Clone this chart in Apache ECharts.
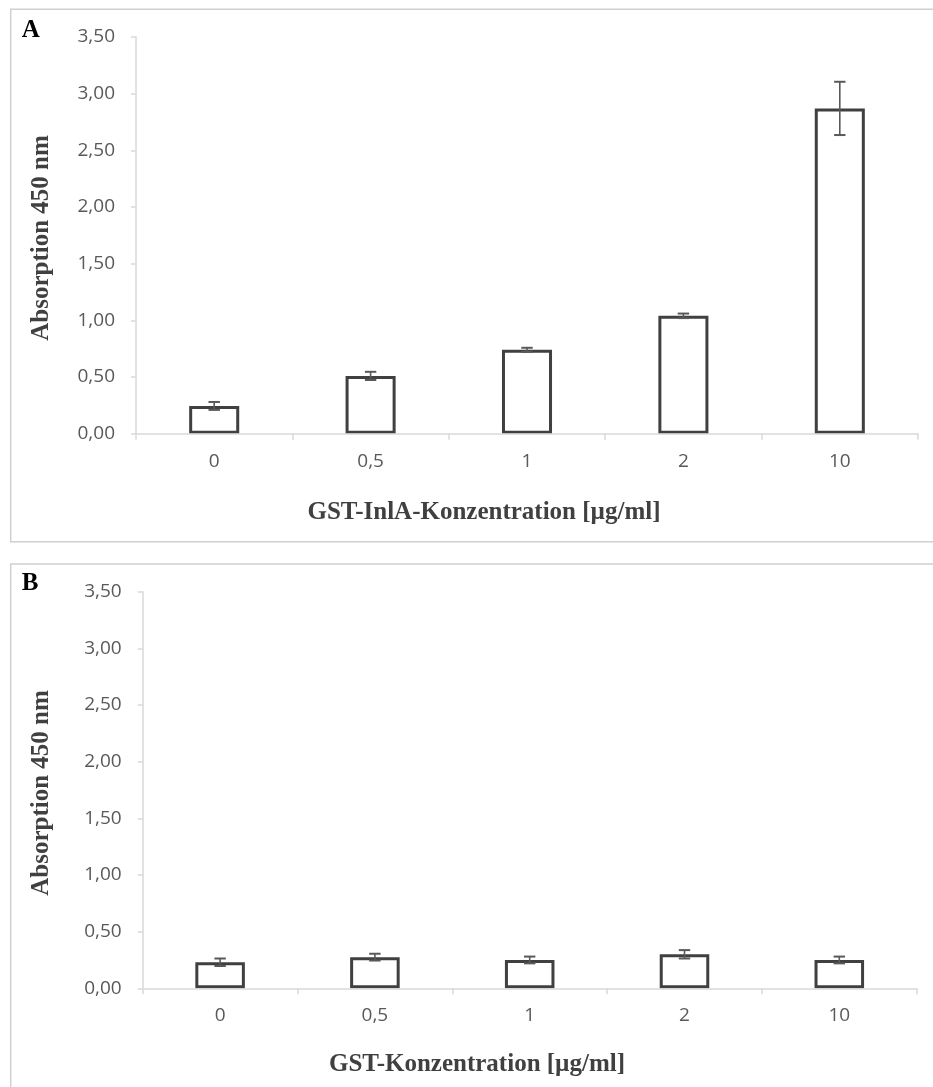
<!DOCTYPE html>
<html>
<head>
<meta charset="utf-8">
<script src="https://cdn.jsdelivr.net/npm/echarts@6/dist/echarts.min.js"></script>
<style>
  html, body { margin: 0; padding: 0; background: #ffffff; }
  #chart { width: 933px; height: 1087px; }
</style>
</head>
<body>
<div id="chart"></div>
<script>
// Concentrations (x categories), shared by both panels
const concentrations = ['0', '0,5', '1', '2', '10'];

// Panel A: GST-InlA, absorbance at 450 nm (mean and error)
const meanA = [0.245, 0.51, 0.74, 1.04, 2.87];
const errA  = [0.035, 0.036, 0.018, 0.02, 0.235];

// Panel B: GST, absorbance at 450 nm (mean and error)
const meanB = [0.23, 0.275, 0.25, 0.30, 0.25];
const errB  = [0.033, 0.03, 0.03, 0.037, 0.03];

// Y axis range
const yMin = 0, yMax = 3.5, yStep = 0.5;

const titleFont = 'bold 25px "Liberation Serif", "DejaVu Serif", serif';
const textDark = '#404040';
const labelGray = '#595959';
const axisGray = '#d9d9d9';

// Error bar: vertical whisker with caps at mean ± err
function errorRender(params, api) {
  const x = api.value(0);
  const m = api.value(1);
  const e = api.value(2);
  const top = api.coord([x, m + e]);
  const bot = api.coord([x, m - e]);
  const hw = 5.7;
  const style = { stroke: labelGray, lineWidth: 1.6 };
  return {
    type: 'group',
    children: [
      { type: 'line', shape: { x1: top[0], y1: top[1], x2: bot[0], y2: bot[1] }, style },
      { type: 'line', shape: { x1: top[0] - hw, y1: top[1], x2: top[0] + hw, y2: top[1] }, style: { stroke: labelGray, lineWidth: 2 } },
      { type: 'line', shape: { x1: bot[0] - hw, y1: bot[1], x2: bot[0] + hw, y2: bot[1] }, style: { stroke: labelGray, lineWidth: 2 } }
    ]
  };
}

function xAxisCfg(gridIndex) {
  return {
    type: 'category',
    gridIndex,
    data: concentrations,
    z: 5,
    axisLine: { show: true, lineStyle: { color: axisGray, width: 1.5 } },
    axisTick: { show: true, length: 6, lineStyle: { color: axisGray, width: 1.5 } },
    axisLabel: { color: labelGray, fontSize: 19, fontFamily: '"Open Sans", sans-serif', margin: 18 },
    splitLine: { show: false }
  };
}

function yAxisCfg(gridIndex) {
  return {
    type: 'value',
    gridIndex,
    min: yMin, max: yMax, interval: yStep,
    axisLine: { show: true, lineStyle: { color: axisGray, width: 1.5 } },
    axisTick: { show: true, length: 5, lineStyle: { color: axisGray, width: 1.5 } },
    axisLabel: {
      color: labelGray, fontSize: 19, fontFamily: '"Open Sans", sans-serif', margin: 21,
      formatter: v => v.toFixed(2).replace('.', ',')
    },
    splitLine: { show: false }
  };
}

function barSeries(idx, values) {
  return {
    type: 'bar',
    xAxisIndex: idx, yAxisIndex: idx,
    data: values,
    barWidth: '32%',
    itemStyle: { color: '#ffffff', borderColor: textDark, borderWidth: 3 },
    z: 2,
    silent: true
  };
}

function errSeries(idx, means, errs) {
  return {
    type: 'custom',
    xAxisIndex: idx, yAxisIndex: idx,
    renderItem: errorRender,
    data: means.map((m, i) => [i, m, errs[i]]),
    z: 6,
    silent: true
  };
}

const chart = echarts.init(document.getElementById('chart'), null, { renderer: 'canvas' });

chart.setOption({
  animation: false,
  backgroundColor: '#ffffff',
  grid: [
    { left: 136, right: 15, top: 37, height: 396.7 },
    { left: 142.7, right: 16.3, top: 591.7, height: 396.6 }
  ],
  xAxis: [xAxisCfg(0), xAxisCfg(1)],
  yAxis: [yAxisCfg(0), yAxisCfg(1)],
  series: [
    barSeries(0, meanA),
    errSeries(0, meanA, errA),
    barSeries(1, meanB),
    errSeries(1, meanB, errB)
  ],
  graphic: [
    // panel frames
    { type: 'rect', shape: { x: 10.7, y: 9.3, width: 940, height: 532.4 }, style: { fill: 'none', stroke: '#d0d0d0', lineWidth: 1.5 }, z: 0 },
    { type: 'rect', shape: { x: 10.7, y: 564, width: 940, height: 600 }, style: { fill: 'none', stroke: '#d0d0d0', lineWidth: 1.5 }, z: 0 },
    // panel letters
    { type: 'text', style: { x: 21.7, y: 30.3, text: 'A', font: 'bold 25px "Liberation Serif", serif', fill: '#000000', textAlign: 'left', textVerticalAlign: 'middle' } },
    { type: 'text', style: { x: 21.7, y: 584, text: 'B', font: 'bold 25px "Liberation Serif", serif', fill: '#000000', textAlign: 'left', textVerticalAlign: 'middle' } },
    // axis titles, panel A
    { type: 'text', x: 42, y: 238, rotation: Math.PI / 2, style: { x: 0, y: 0, text: 'Absorption 450 nm', font: titleFont, fill: textDark, textAlign: 'center', textVerticalAlign: 'middle' } },
    { type: 'text', style: { x: 484, y: 512.5, text: 'GST-InlA-Konzentration [µg/ml]', font: titleFont, fill: textDark, textAlign: 'center', textVerticalAlign: 'middle' } },
    // axis titles, panel B
    { type: 'text', x: 42, y: 793, rotation: Math.PI / 2, style: { x: 0, y: 0, text: 'Absorption 450 nm', font: titleFont, fill: textDark, textAlign: 'center', textVerticalAlign: 'middle' } },
    { type: 'text', style: { x: 477, y: 1065, text: 'GST-Konzentration [µg/ml]', font: titleFont, fill: textDark, textAlign: 'center', textVerticalAlign: 'middle' } }
  ]
});
</script>
</body>
</html>
